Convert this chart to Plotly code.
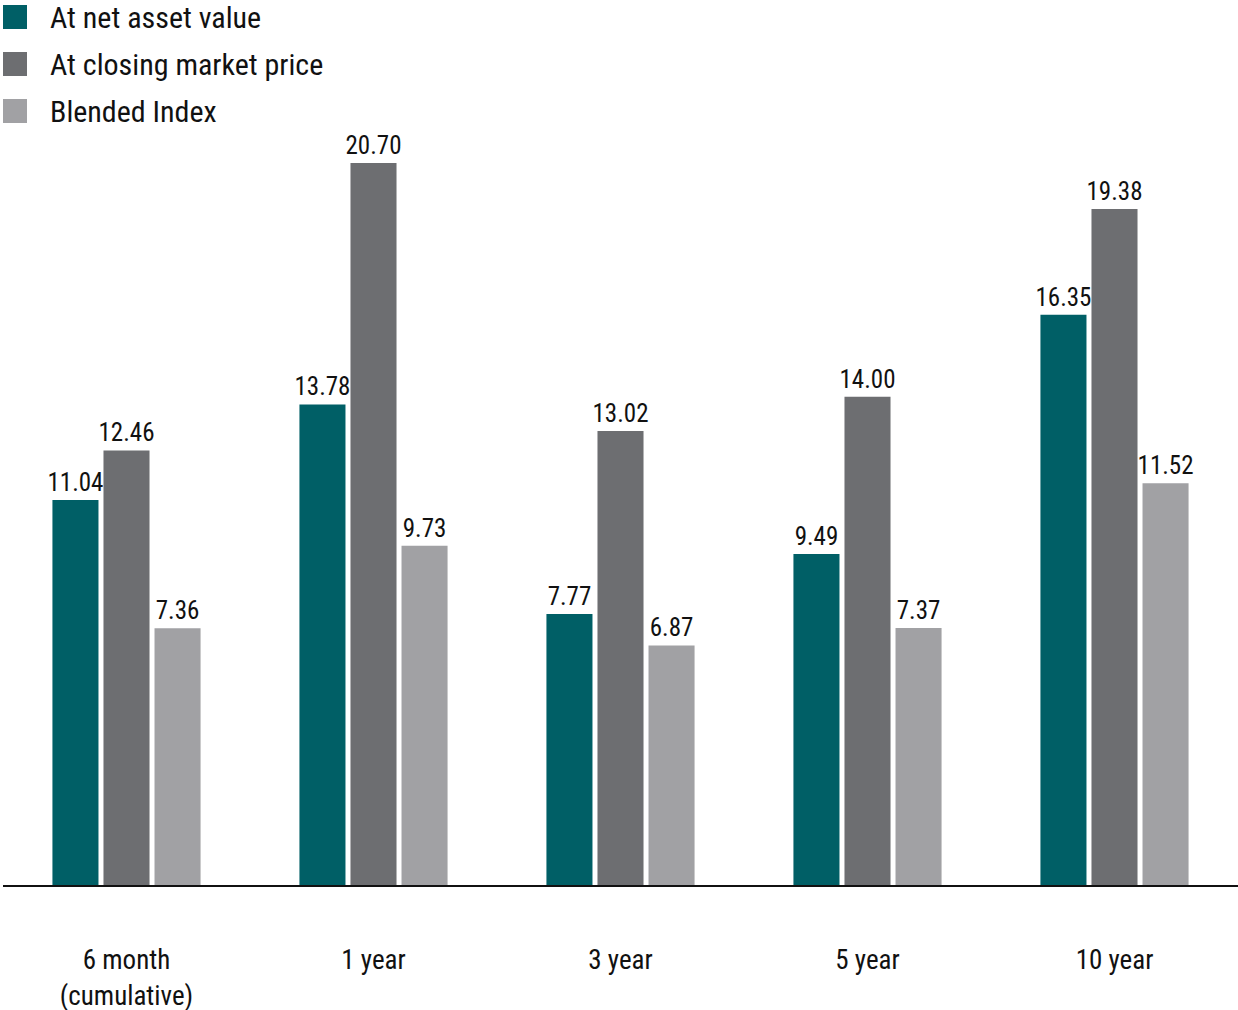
import plotly.graph_objects as go

categories = ["6 month<br>(cumulative)", "1 year", "3 year", "5 year", "10 year"]
series_names = ["At net asset value", "At closing market price", "Blended Index"]
nav = [11.04, 13.78, 7.77, 9.49, 16.35]
market = [12.46, 20.70, 13.02, 14.00, 19.38]
index_vals = [7.36, 9.73, 6.87, 7.37, 11.52]
colors = ["#005F66", "#6D6E71", "#A1A1A4"]

FONT = "Liberation Sans Narrow, Roboto Condensed, Arial Narrow, sans-serif"

W, H = 1238, 1010
L, R, T, B = 3, 0, 140, 125
pw, ph = W - L - R, H - T - B

fig = go.Figure()
for name, vals, c in zip(series_names, [nav, market, index_vals], colors):
    fig.add_trace(go.Bar(
        x=categories, y=vals, name=name, marker_color=c, marker_line_width=0,
        text=[f"{v:.2f}" for v in vals], textposition="outside",
        constraintext="none",
        textfont=dict(family=FONT, size=25, color="#111111"),
        cliponaxis=False, showlegend=False,
    ))

# manual legend
def px2x(px):
    return (px - L) / pw

def py2y(py):
    return (H - B - py) / ph

shapes = []
annotations = []
for i, (name, c) in enumerate(zip(series_names, colors)):
    cy = 17 + 47 * i
    shapes.append(dict(type="rect", xref="paper", yref="paper",
                       x0=px2x(3), x1=px2x(27), y0=py2y(cy + 12), y1=py2y(cy - 12),
                       fillcolor=c, line_width=0))
    annotations.append(dict(xref="paper", yref="paper", x=px2x(48), y=py2y(cy),
                            xanchor="left", yanchor="middle", showarrow=False,
                            text=name, font=dict(family=FONT, size=30, color="#111111")))

fig.update_layout(
    width=W, height=H,
    margin=dict(l=L, r=R, t=T, b=B),
    plot_bgcolor="white", paper_bgcolor="white",
    barmode="group", bargap=0.38, bargroupgap=0.098,
    shapes=shapes, annotations=annotations,
    xaxis=dict(showline=True, linecolor="#111111", linewidth=2, ticks="",
               tickfont=dict(family=FONT, size=27, color="#111111"),
               ticklabelstandoff=50, showgrid=False, automargin=False),
    yaxis=dict(range=[0, 21.36], visible=False, showgrid=False, automargin=False),
)

fig.write_html("out.html", config={"displayModeBar": False},
               post_script="document.body.style.margin='0';")
